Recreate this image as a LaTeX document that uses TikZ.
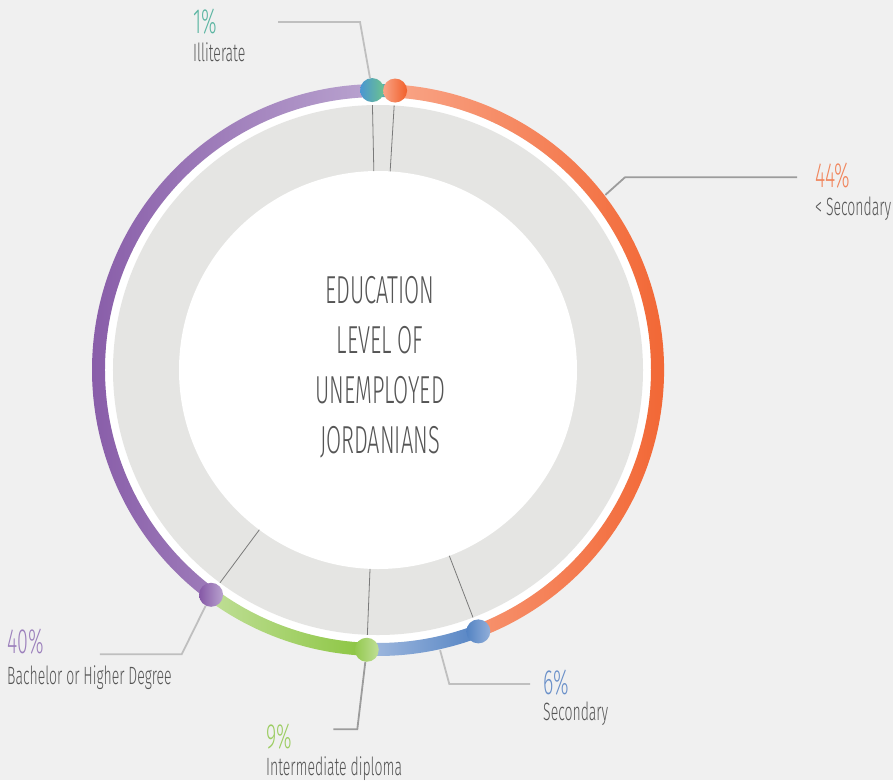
\documentclass[tikz,border=0pt]{standalone}
\usepackage{fontspec}
\setmainfont{Fira Sans Light}[FakeStretch=0.56]
\usepackage{xcolor}
\usetikzlibrary{positioning}

\definecolor{bgcol}{HTML}{F0F0F0}
\definecolor{ringgray}{HTML}{E5E5E3}
\definecolor{txtgray}{HTML}{555555}
\definecolor{divgray}{HTML}{7A7A7A}
\definecolor{leadlight}{HTML}{BFBFBF}
\definecolor{leaddark}{HTML}{9C9C9C}
\definecolor{purpleD}{HTML}{8558A6}
\definecolor{purpleL}{HTML}{B9A3CF}
\definecolor{orangeL}{HTML}{F9A486}
\definecolor{orangeD}{HTML}{F15F2A}
\definecolor{blueL}{HTML}{A2BADF}
\definecolor{blueD}{HTML}{5383C3}
\definecolor{greenL}{HTML}{C0DF98}
\definecolor{greenD}{HTML}{8BC540}
\definecolor{tealA}{HTML}{4A96D2}
\definecolor{tealB}{HTML}{6CC28E}
\definecolor{tealT}{HTML}{5BB5A2}
\definecolor{orangeT}{HTML}{F0855C}
\definecolor{purpleT}{HTML}{9C80BC}
\definecolor{blueT}{HTML}{6A90C9}
\definecolor{greenT}{HTML}{9CCD62}

\begin{document}
\begin{tikzpicture}[x=1pt,y=1pt,
              pct/.style = {anchor=base west, inner sep=0, font=\fontsize{35}{35}\selectfont},
              lbl/.style = {anchor=base west, inner sep=0, text=txtgray, font=\fontsize{25}{25}\selectfont},
              dot/.style = {circle, minimum size=24pt, inner sep=0},
              lead/.style = {line width=1.8pt},
              divline/.style = {draw=divgray, line width=0.8pt}]
  \useasboundingbox (-378,-410) rectangle (515,370);
  \fill[bgcol] (-378,-410) rectangle (515,370);
  % rings
  \fill[white] (0,0) circle[radius=273];
  \fill[ringgray] (0,0) circle[radius=265];
  \fill[white] (0,0) circle[radius=199];
  \foreach \a in {91.2,86.5,-69,-92.3,-126.6}
    \draw[divline] (\a:199) -- (\a:265);
  % coloured segments
  \foreach \s/\e/\l/\r in {91.2/86.5/tealA/tealB, 86.5/-69/orangeL/orangeD,
                           -69/-92.3/blueL/blueD, -92.3/-126.6/greenL/greenD,
                           -126.6/-268.8/purpleD/purpleL}
    \shade[left color=\l, right color=\r] (\s:273) arc[start angle=\s, end angle=\e, radius=273]
      -- (\e:286) arc[start angle=\e, end angle=\s, radius=286] -- cycle;
  \node[text=txtgray, align=center, font=\fontsize{39}{50}\selectfont] (title) at (2,2.5)
    {EDUCATION\\LEVEL OF\\UNEMPLOYED\\JORDANIANS};
  % leaders
  \coordinate (illBend) at (-18,348);
  \coordinate (illEnd) at (-100,348);
  \coordinate (lowStart) at (37.6:287);
  \coordinate (lowBend) at (247,192.7);
  \coordinate (lowEnd) at (419,192.7);
  \coordinate (bachBend) at (-196.3,-284.3);
  \coordinate (bachEnd) at (-278,-284.3);
  \coordinate (secStart) at (-77.5:287);
  \coordinate (secBend) at (71.3,-314);
  \coordinate (secEnd) at (152,-314);
  \coordinate (intBend) at (-20.7,-359.3);
  \coordinate (intEnd) at (-44.7,-359.3);
  % dots
  \node[dot, left color=tealA, right color=tealB] (dotIll) at (91.2:280) {};
  \node[dot, left color=orangeL, right color=orangeD] (dotLow) at (86.5:280) {};
  \node[dot, left color=blueD, right color=blueL!80!blueD] (dotSec) at (-69:280) {};
  \node[dot, left color=greenD!85!greenL, right color=greenL] (dotInt) at (-92.3:280) {};
  \node[dot, left color=purpleD, right color=purpleL] (dotBach) at (-126.6:280) {};
  \draw[lead, leadlight] (dotIll) -- (illBend) -- (illEnd);
  \draw[lead, leaddark] (lowStart) -- (lowBend) -- (lowEnd);
  \draw[lead, leadlight] (dotBach) -- (bachBend) -- (bachEnd);
  \draw[lead, leadlight] (secStart) -- (secBend) -- (secEnd);
  \draw[lead, leaddark] (dotInt) -- (intBend) -- (intEnd);
  % labels
  \node[pct, text=tealT] (pctIll) at (-185,336.5) {1\%};
  \node[lbl] (lblIll) at ([yshift=-27.5pt]pctIll.base west) {Illiterate};
  \node[pct, text=orangeT] (pctLow) at (437,183) {44\%};
  \node[lbl] (lblLow) at ([yshift=-28pt]pctLow.base west) {< Secondary};
  \node[pct, text=purpleT] (pctBach) at (-371,-283) {40\%};
  \node[lbl] (lblBach) at ([yshift=-31pt]pctBach.base west) {Bachelor or Higher Degree};
  \node[pct, text=blueT] (pctSec) at (165,-324) {6\%};
  \node[lbl] (lblSec) at ([yshift=-26pt]pctSec.base west) {Secondary};
  \node[pct, text=greenT] (pctInt) at (-112,-378) {9\%};
  \node[lbl] (lblInt) at ([yshift=-27pt]pctInt.base west) {Intermediate diploma};
\end{tikzpicture}
\end{document}
